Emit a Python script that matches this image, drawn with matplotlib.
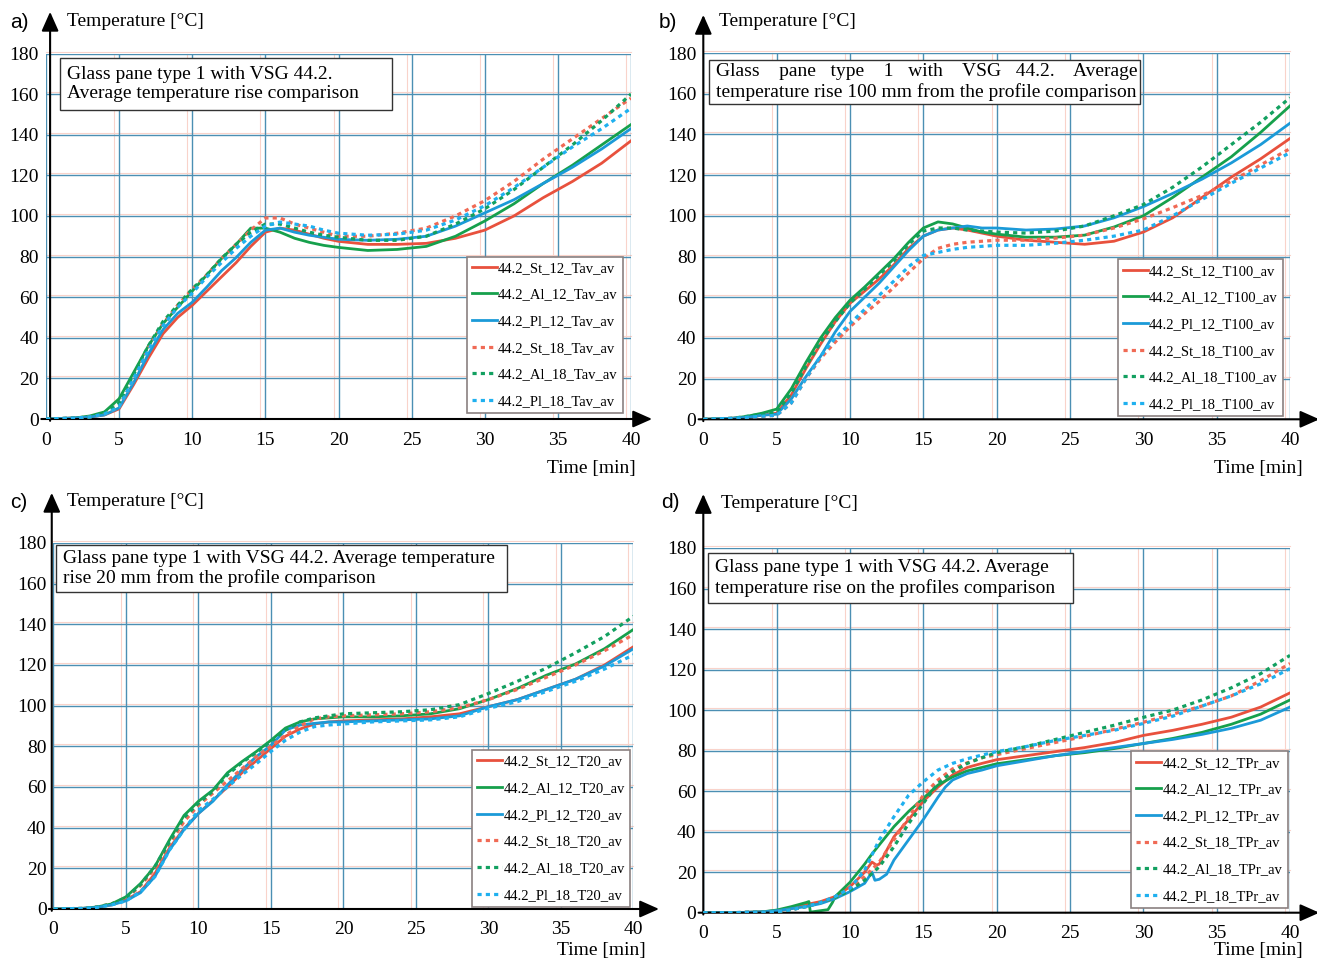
import matplotlib
matplotlib.use("Agg")
import matplotlib.pyplot as plt
import matplotlib.transforms as mtransforms
from matplotlib.patches import Rectangle

plt.rcParams['font.family'] = ['Liberation Serif', 'DejaVu Serif']

# time axis shared by most series [min]
t = [0, 2, 3, 4, 5, 6, 7, 8, 9, 10, 11, 12, 13, 14, 15, 16, 17, 18, 19, 20,
     22, 24, 26, 28, 30, 32, 34, 36, 38, 40]

# a) average temperature
a_st12 = [0, 0.5, 1, 2, 5, 17, 30, 42, 50, 56, 63, 70, 77, 85, 92, 94, 93, 91, 89, 87.5,
          86, 86, 86.5, 89, 93, 100, 109, 117, 126, 137]
a_al12 = [0, 0.5, 1.5, 3.5, 10, 23, 36, 47, 55, 63, 71, 79, 86, 94, 94, 92, 89, 87, 85.5, 84.5,
          83, 83.5, 85, 90, 97.5, 106, 116, 125, 135, 145]
a_pl12 = [0, 0.5, 1, 2, 5.5, 18, 32, 44, 52, 57.5, 65, 73, 79.5, 87, 93, 94, 92, 90.5, 89.5, 88.5,
          88, 88.5, 90, 95, 101.5, 108, 116, 124, 133, 143]
a_st18 = [0, 0.5, 1, 2.5, 6, 20, 35, 47, 56, 64, 71, 79, 86, 93, 99, 99, 96, 94, 92, 90,
          90, 91.5, 94, 100, 107.5, 117, 128, 138, 148, 158]
a_al18 = [0, 0.5, 1, 3, 8, 22, 36, 48, 56, 64, 71, 79, 86, 92, 96, 96, 94, 92, 90.5, 89.5,
          88, 88, 90, 96, 103.5, 113, 124, 135, 147, 160]
a_pl18 = [0, 0.5, 1, 2.5, 6, 20, 34, 46, 55, 62, 70, 77, 84, 90, 95, 97, 96, 95, 93, 91.5,
          90.5, 91, 93, 98, 105, 114, 124, 134, 143, 153]

# b) 100 mm from the profile
b_st12 = [0, 0.5, 1, 2, 3, 12, 25, 37, 48, 57, 63, 69, 76, 84, 90, 93, 94, 93, 91.5, 90,
          88, 87, 86, 87.5, 92, 99, 109, 119, 128, 138]
b_al12 = [0, 0.5, 1.5, 3, 5, 15, 28, 40, 50, 58.5, 65, 72, 79, 87, 94, 97, 96, 94, 92, 91,
          89.5, 89.5, 90.5, 94.5, 100, 109, 119, 129, 141, 154]
b_pl12 = [0, 0.5, 1, 2, 2.5, 10, 21, 31, 43, 53, 60, 67, 75, 83, 90, 93, 94, 95, 94, 94,
          93, 93.5, 95, 99, 104.5, 111, 118, 126, 135, 145.5]
b_st18 = [0, 0.5, 1, 1.5, 2, 8, 20, 30, 38, 45.5, 52, 58, 65, 72, 79, 84, 86, 87, 87.5, 88,
          88, 89, 90.5, 94, 98.5, 104, 110, 117, 125, 133]
b_al18 = [0, 0.5, 1.5, 2.5, 3.5, 13, 26, 38, 48, 57, 64, 71, 78, 86, 92.5, 94, 94, 93, 92.5, 92,
          91.5, 92.5, 95, 100, 105.5, 114, 124, 135, 146, 158]
b_pl18 = [0, 0.5, 1, 1.5, 2, 8, 20, 31, 40, 47, 54, 61, 68, 75, 80.5, 82, 83.5, 84.5, 85, 85.5,
          85.5, 86.5, 88, 90, 93, 100, 108, 116, 123.5, 131]

# c) 20 mm from the profile
c_st12 = [0, 0.3, 0.8, 2, 4.5, 8.5, 17.5, 30, 39.5, 47, 53.5, 60, 67, 73, 79, 85, 88.5, 91, 92, 92.5,
          93, 93.5, 94.5, 96, 99.5, 103, 108, 113, 120, 129]
c_al12 = [0, 0.3, 1, 2.5, 6, 12.5, 21, 34, 46, 53, 58.5, 67, 72.5, 77.5, 83, 89, 92, 93.5, 94, 94.5,
          94.5, 95, 96, 98.5, 103, 108.5, 115, 120.5, 128, 137.5]
c_pl12 = [0, 0.3, 0.8, 2, 4, 8, 16, 29, 39, 47, 53, 61, 68.5, 75, 80.5, 88, 90.5, 91.3, 92, 92,
          92.5, 93, 93.5, 95, 99.5, 103, 108, 113, 119.5, 128]
c_st18 = [0, 0.3, 1, 2.5, 5, 11.5, 20, 32, 43, 51, 57, 63, 69, 75, 80, 85.5, 90, 93.5, 94.5, 95,
          95.5, 96, 97, 99, 103, 108, 114, 120, 127, 135]
c_al18 = [0, 0.3, 1, 2.5, 5.5, 12, 21, 33, 45, 52, 58, 66, 72, 77, 82.5, 88, 92, 94, 95, 96,
          96.5, 97, 98, 100.5, 106, 112, 118.5, 126, 134, 144]
c_pl18 = [0, 0.3, 0.8, 2, 4, 8.5, 16, 29, 39, 48.5, 54, 60, 66, 71.5, 77.5, 83, 87, 89.7, 90.5, 91,
          92, 92.5, 93, 94.5, 98.7, 102, 107, 112, 118, 125]

# d) on the profiles (solid series have their own time points)
td_st12 = [0, 2, 3, 4, 5, 6, 7, 8, 9, 10, 11, 11.5, 11.8, 12, 13, 14, 15, 16, 17, 18, 19, 20,
           22, 24, 26, 28, 30, 32, 34, 36, 38, 40]
d_st12 = [0, 0, 0.2, 0.4, 1, 2, 4, 5.5, 8, 12.8, 20, 25, 23.5, 24, 37.5, 46, 55, 62, 68, 71.7, 73.7, 75.5,
          77.5, 79.5, 81.5, 84, 87.5, 90, 93, 96.5, 101.5, 108.5]
td_al12 = [0, 2, 3, 4, 5, 6, 7, 7.2, 7.3, 8.5, 8.8, 9, 10, 11, 11.5, 12, 13, 14, 15, 16, 17, 18, 19, 20,
           22, 24, 26, 28, 30, 32, 34, 36, 38, 40]
d_al12 = [0, 0, 0.2, 0.4, 1.3, 3, 5, 5.5, 0.3, 1.5, 5, 8, 15, 24, 29, 33.5, 42.5, 50, 56.5, 63, 67, 70, 71.7, 73.5,
          75.5, 77.5, 79, 81, 83.5, 86, 89, 93, 98, 105]
td_pl12 = [0, 2, 3, 4, 5, 6, 7, 8, 9, 10, 11, 11.5, 11.7, 12, 12.5, 13, 14, 15, 16, 16.5, 17, 18, 19, 20,
           22, 24, 26, 28, 30, 32, 34, 36, 38, 40]
d_pl12 = [0, 0, 0.2, 0.4, 1, 2, 3, 4.5, 7, 10.4, 14.5, 20, 16, 16.5, 19, 26, 36, 46, 57, 62, 65.5, 68.7, 70.4, 72.5,
          75, 77.5, 79.5, 81.5, 83.5, 85.5, 88, 91, 95, 101.5]
d_st18 = [0, 0, 0.2, 0.3, 0.5, 1.5, 3, 5, 7.5, 12, 17.8, 25, 36, 47, 58, 65.5, 71, 74, 76.5, 78,
          81, 84, 87, 90.5, 94, 98, 102, 107, 114.5, 123]
d_al18 = [0, 0, 0.2, 0.3, 0.5, 1.5, 3, 5, 7.5, 11, 16, 22.7, 32.6, 44, 54, 63.8, 69.6, 73.7, 76.5, 79,
          82, 85.5, 89, 92.5, 96.4, 100, 105, 111, 118, 127]
d_pl18 = [0, 0, 0.2, 0.3, 0.5, 1.5, 3, 5, 8, 12, 21, 36, 47.4, 58, 64.6, 70.4, 73.7, 76, 77.8, 79.5,
          82, 85, 87.5, 90, 93.4, 97, 102, 107, 113, 120.5]

names = ["St_12", "Al_12", "Pl_12", "St_18", "Al_18", "Pl_18"]
suffix = {"a": "Tav", "b": "T100", "c": "T20", "d": "TPr"}
titles = {
    "a": "Glass pane type 1 with VSG 44.2.\nAverage temperature rise comparison",
    "b": "Glass    pane   type    1   with    VSG   44.2.    Average\n"
         "temperature rise 100 mm from the profile comparison",
    "c": "Glass pane type 1 with VSG 44.2. Average temperature\nrise 20 mm from the profile comparison",
    "d": "Glass pane type 1 with VSG 44.2. Average\ntemperature rise on the profiles comparison",
}

colors = ["#e8513d", "#16a04c", "#1b9ad8", "#f06a55", "#12a060", "#1fb0ef"]
dotted = (0, (1.3, 1.3))

fig = plt.figure(figsize=(13.17, 9.6), dpi=100)

panels = {
    "a": dict(rect=[0.03493, 0.56354, 0.44419, 0.38073],
              data=([t] * 6, [a_st12, a_al12, a_pl12, a_st18, a_al18, a_pl18]),
              box=(0.024, 0.845, 0.567, 0.143), leg=(0.986, 0.016),
              ytip=1.114, xtip=1.036, yax=0.007,
              letter=(10, 22), ylab=(67, 22), xlab=(636, 468)),
    "b": dict(rect=[0.53402, 0.56323, 0.44548, 0.38156],
              data=([t] * 6, [b_st12, b_al12, b_pl12, b_st18, b_al18, b_pl18]),
              box=(0.0097, 0.861, 0.734, 0.120), leg=(0.988, 0.009),
              ytip=1.104, xtip=1.05, yax=0.0,
              letter=(659, 22), ylab=(719, 22), xlab=(1303, 468)),
    "c": dict(rect=[0.04062, 0.05313, 0.44039, 0.38125],
              data=([t] * 6, [c_st12, c_al12, c_pl12, c_st18, c_al18, c_pl18]),
              box=(0.005, 0.866, 0.777, 0.129), leg=(0.994, 0.006),
              ytip=1.137, xtip=1.044, yax=-0.003,
              letter=(10, 502), ylab=(67, 502), xlab=(646, 951)),
    "d": dict(rect=[0.53402, 0.04927, 0.44548, 0.37990],
              data=([td_st12, td_al12, td_pl12, t, t, t],
                    [d_st12, d_al12, d_pl12, d_st18, d_al18, d_pl18]),
              box=(0.008, 0.849, 0.622, 0.137), leg=(0.996, 0.013),
              ytip=1.148, xtip=1.05, yax=0.0,
              letter=(661, 503), ylab=(721, 503), xlab=(1303, 951)),
}

W, H = 1317, 960
for key, p in panels.items():
    ax = fig.add_axes(p["rect"])
    ax.set_xlim(0, 40)
    ax.set_ylim(0, 180)
    ax.set_xticks(range(0, 41, 5))
    ax.set_yticks(range(0, 181, 20))
    for s in ax.spines.values():
        s.set_visible(False)
    ax.tick_params(length=0, labelsize=14)
    ax.tick_params(axis="x", pad=9)
    ax.tick_params(axis="y", pad=5)

    # grid: blue lines with a faint red misregistered copy
    ax.grid(True, color="#4b8fb3", lw=1.0, zorder=0)
    off_x = mtransforms.ScaledTranslation(-5 / 100, 0, fig.dpi_scale_trans)
    off_y = mtransforms.ScaledTranslation(0, 2 / 100, fig.dpi_scale_trans)
    for xv in range(5, 41, 5):
        ax.plot([xv, xv], [0, 180], color="#f9d3ca", lw=0.8, zorder=0,
                transform=ax.transData + off_x, clip_on=False)
    for yv in range(20, 181, 20):
        ax.plot([0, 40], [yv, yv], color="#f9d3ca", lw=0.8, zorder=0,
                transform=ax.transData + off_y, clip_on=False)

    times, series = p["data"]
    for i in range(6):
        label = "44.2_" + names[i] + "_" + suffix[key] + "_av"
        if i < 3:
            ax.plot(times[i], series[i], color=colors[i], lw=2.0, label=label, zorder=3)
        else:
            ax.plot(times[i], series[i], color=colors[i], lw=2.3, ls=dotted, label=label, zorder=4)

    # axis arrows
    ax.annotate("", xy=(p["yax"], p["ytip"]), xytext=(p["yax"], -0.005), xycoords="axes fraction",
                arrowprops=dict(arrowstyle="-|>,head_length=0.9,head_width=0.4", lw=1.5, color="k",
                                shrinkA=0, shrinkB=0, mutation_scale=13),
                annotation_clip=False)
    ax.annotate("", xy=(p["xtip"], 0), xytext=(-0.008, 0), xycoords="axes fraction",
                arrowprops=dict(arrowstyle="-|>,head_length=0.9,head_width=0.4", lw=1.5, color="k",
                                shrinkA=0, shrinkB=0, mutation_scale=13),
                annotation_clip=False)

    # title box
    bx, by, bw, bh = p["box"]
    ax.add_patch(Rectangle((bx, by), bw, bh, transform=ax.transAxes, fc="white",
                           ec="#333333", lw=1.0, zorder=5, clip_on=False))
    ax.text(bx + 0.012, by + bh / 2, titles[key], transform=ax.transAxes, fontsize=14,
            ha="left", va="center", linespacing=1.2, zorder=6)

    leg = ax.legend(loc="lower right", bbox_to_anchor=p["leg"], borderaxespad=0,
                    fontsize=10.5, handlelength=1.7, handletextpad=0.1, labelspacing=0.92,
                    borderpad=0.35, fancybox=False, framealpha=1, edgecolor="#8a8080")
    leg.get_frame().set_linewidth(1.2)
    leg.set_zorder(6)

    lx, ly = p["letter"]
    fig.text(lx / W, 1 - ly / H, key + ")", fontsize=15, family="Liberation Sans",
             ha="left", va="center")
    yx, yy = p["ylab"]
    fig.text(yx / W, 1 - yy / H, "Temperature [°C]", fontsize=14, ha="left", va="center")
    tx, ty = p["xlab"]
    fig.text(tx / W, 1 - ty / H, "Time [min]", fontsize=14, ha="right", va="center")

fig.savefig("out.png", dpi=100)
